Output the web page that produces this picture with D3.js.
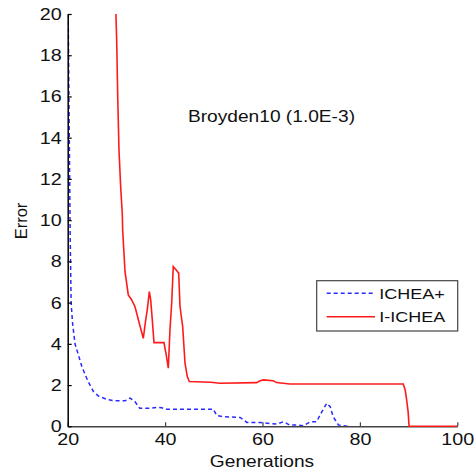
<!DOCTYPE html>
<html>
<head>
<meta charset="utf-8">
<script src="https://cdn.jsdelivr.net/npm/d3@7/dist/d3.min.js"></script>
<style>
  html, body { margin: 0; padding: 0; background: #fff; }
  svg { display: block; }
  text { font-family: "Liberation Sans", Arial, sans-serif; fill: #111; }
</style>
</head>
<body>
<svg id="chart" width="474" height="474"></svg>
<script>
// ---- data ----
const xTicks = [20, 40, 60, 80, 100];
const yTicks = [0, 2, 4, 6, 8, 10, 12, 14, 16, 18, 20];

const icheaPlusGen = [20.1, 20.5, 20.7, 21.0, 21.5, 22.2, 22.9, 23.6, 24.2, 25.3, 26.3, 28.0, 29.4, 31.8, 32.8, 33.8, 34.8, 36.9, 38.3, 39.3, 40.3, 49.9, 50.6, 52.0, 55.4, 56.8, 59.5, 62.9, 64.3, 65.6, 67.0, 68.4, 69.8, 71.1, 72.2, 73.2, 73.9, 74.5, 75.6, 76.6, 77.6];
const icheaPlusErr = [20, 9.5, 6.0, 5.0, 4.0, 3.46, 2.9, 2.5, 2.17, 1.68, 1.47, 1.31, 1.24, 1.24, 1.37, 1.2, 0.87, 0.87, 0.92, 0.9, 0.83, 0.83, 0.52, 0.47, 0.43, 0.19, 0.18, 0.11, 0.22, 0.06, 0.06, 0.03, 0.22, 0.22, 0.71, 1.12, 0.95, 0.47, 0.06, 0.03, 0.0];

const iIcheaGen = [29.9, 30.06, 30.27, 30.53, 30.88, 31.21, 31.29, 31.77, 32.44, 33.14, 33.82, 34.7, 35.52, 36.02, 36.34, 36.76, 37.04, 37.37, 37.72, 39.77, 40.18, 40.66, 41.0, 41.35, 41.68, 42.24, 42.79, 43.06, 43.61, 44.09, 44.56, 44.97, 49.36, 51.27, 58.8, 59.5, 60.2, 62.2, 62.9, 65.6, 88.9, 89.3, 89.6, 89.9, 90.1, 100];
const iIcheaErr = [20, 18.7, 16.0, 13.4, 11.6, 10.3, 9.5, 7.5, 6.37, 6.13, 5.8, 5.0, 4.27, 5.16, 5.65, 6.53, 6.13, 5.16, 4.06, 4.06, 3.54, 2.82, 4.67, 5.97, 7.75, 7.59, 7.43, 5.81, 4.84, 3.06, 2.41, 2.17, 2.14, 2.09, 2.12, 2.21, 2.25, 2.21, 2.12, 2.05, 2.05, 1.76, 1.28, 0.71, 0.0, 0.0];

const seriesNames = ["ICHEA+", "I-ICHEA"];
const titleText = "Broyden10 (1.0E-3)";
const xLabel = "Generations";
const yLabel = "Error";

// ---- drawing ----
const svg = d3.select("#chart");
const x = d3.scaleLinear().domain([20, 100]).range([67.7, 457.3]);
const y = d3.scaleLinear().domain([0, 20]).range([426.3, 14]);
const STRETCH = 1.16;

function stretch(sel) {
  sel.each(function () {
    const len = this.getComputedTextLength();
    d3.select(this).attr("textLength", len * STRETCH).attr("lengthAdjust", "spacingAndGlyphs");
  });
}

svg.append("defs").append("clipPath").attr("id", "plotclip")
  .append("rect").attr("x", x(20)).attr("y", y(20) - 2)
  .attr("width", x(100) - x(20)).attr("height", y(0) - y(20) + 4);

const line = d3.line().x(d => x(d[0])).y(d => y(d[1]));
const plot = svg.append("g").attr("clip-path", "url(#plotclip)");

plot.append("path")
  .datum(icheaPlusGen.map((g, i) => [g, icheaPlusErr[i]]))
  .attr("d", line).attr("fill", "none")
  .attr("stroke", "#2a2aff").attr("stroke-width", 1.5)
  .attr("stroke-dasharray", "4,3");

// axes
const xAxis = d3.axisBottom(x).tickValues(xTicks).tickFormat(d3.format("d"))
  .tickSizeInner(-4).tickSizeOuter(0).tickPadding(7);
const yAxis = d3.axisLeft(y).tickValues(yTicks).tickFormat(d3.format("d"))
  .tickSizeInner(-4).tickSizeOuter(0).tickPadding(6);

const gx = svg.append("g").attr("transform", `translate(0,${y(0)})`).call(xAxis);
gx.select(".domain").attr("stroke", "#444").attr("stroke-width", 1.5);
gx.selectAll(".tick line").attr("stroke", "#444").attr("stroke-width", 1.2);
gx.selectAll(".tick text").attr("font-size", 17).attr("fill", "#111")
  .style("font-family", "'Liberation Sans', Arial, sans-serif").call(stretch);

const gy = svg.append("g").attr("transform", `translate(${x(20)},0)`).call(yAxis);
gy.select(".domain").attr("stroke", "#000").attr("stroke-width", 1.5);
gy.selectAll(".tick line").attr("stroke", "#000").attr("stroke-width", 1.2);
gy.selectAll(".tick text").attr("font-size", 17).attr("fill", "#111")
  .style("font-family", "'Liberation Sans', Arial, sans-serif").call(stretch);

// red series drawn above the axis
const plot2 = svg.append("g").attr("clip-path", "url(#plotclip)");
plot2.append("path")
  .datum(iIcheaGen.map((g, i) => [g, iIcheaErr[i]]))
  .attr("d", line).attr("fill", "none")
  .attr("stroke", "#ff1a1a").attr("stroke-width", 1.6);

// labels
svg.append("text").attr("x", 262).attr("y", 467).attr("text-anchor", "middle")
  .attr("font-size", 16.5).text(xLabel).call(stretch);
svg.append("text").attr("transform", "translate(27,221) rotate(-90)").attr("text-anchor", "middle")
  .attr("font-size", 16.5).text(yLabel);
svg.append("text").attr("x", 271.5).attr("y", 122).attr("text-anchor", "middle")
  .attr("font-size", 16.5).text(titleText).call(stretch);

// legend
const lg = svg.append("g");
lg.append("rect").attr("x", 316.7).attr("y", 280.7).attr("width", 141).attr("height", 50.3)
  .attr("fill", "#fff").attr("stroke", "#444").attr("stroke-width", 1.2);
const legendColors = ["#2a2aff", "#ff1a1a"];
const legendDash = ["4,3", null];
seriesNames.forEach((name, i) => {
  const cy = 293.3 + i * 23.4;
  lg.append("line").attr("x1", 326.7).attr("x2", 375).attr("y1", cy).attr("y2", cy)
    .attr("stroke", legendColors[i]).attr("stroke-width", 1.5)
    .attr("stroke-dasharray", legendDash[i]);
  lg.append("text").attr("x", 379.3).attr("y", cy).attr("dy", "0.36em")
    .attr("font-size", 15.5).text(name).call(stretch);
});
</script>
</body>
</html>
